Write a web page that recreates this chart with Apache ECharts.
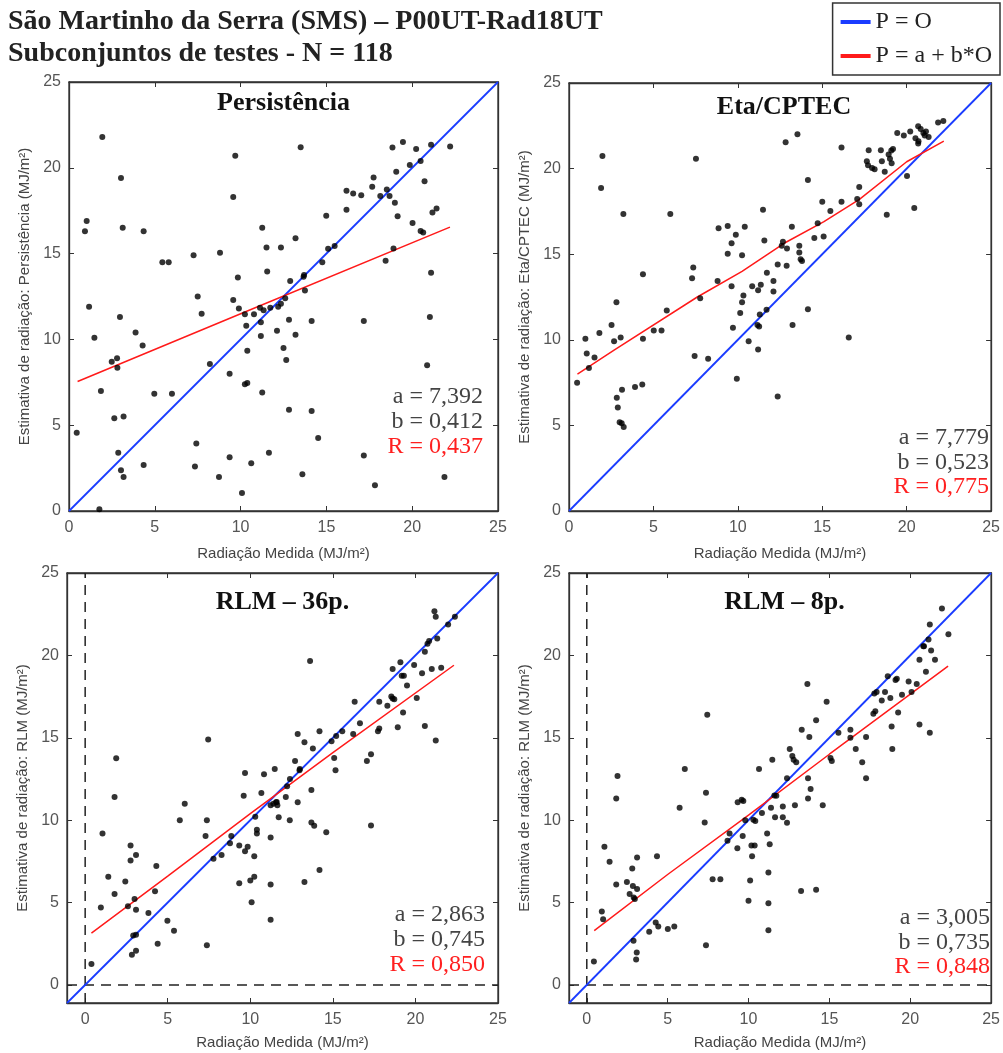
<!DOCTYPE html>
<html><head><meta charset="utf-8">
<script src="https://cdn.jsdelivr.net/npm/echarts@6/dist/echarts.min.js"></script>
<style>html,body{margin:0;padding:0;background:#fff}#c{width:1003px;height:1053px}</style>
</head><body><div id="c"></div>
<script>
// ---------- DATA ----------
const mainTitle = ['São Martinho da Serra (SMS) – P00UT-Rad18UT', 'Subconjuntos de testes - N = 118'];
const legendNames = ['P = O', 'P = a + b*O'];
const panelTitles = ['Persistência', 'Eta/CPTEC', 'RLM – 36p.', 'RLM – 8p.'];
const yAxisNames = ['Estimativa de radiação: Persistência (MJ/m²)', 'Estimativa de radiação: Eta/CPTEC (MJ/m²)',
  'Estimativa de radiação: RLM (MJ/m²)', 'Estimativa de radiação: RLM (MJ/m²)'];
const xAxisName = 'Radiação Medida (MJ/m²)';
const tickValues = [0, 5, 10, 15, 20, 25];
const statsA = ['a = 7,392', 'a = 7,779', 'a = 2,863', 'a = 3,005'];
const statsB = ['b = 0,412', 'b = 0,523', 'b = 0,745', 'b = 0,735'];
const statsR = ['R = 0,437', 'R = 0,775', 'R = 0,850', 'R = 0,848'];

const persistPts = [[0.45,4.56],[0.93,16.3],[1.03,16.9],[1.17,11.9],[1.48,10.1],[1.77,0.1],[1.86,7.0],[1.94,21.8],[2.49,8.7],[2.64,5.4],[2.80,8.9],[2.82,8.35],[2.87,3.4],[2.97,11.3],[3.03,19.4],[3.03,2.37],[3.13,16.5],[3.18,5.5],[3.18,1.98],[3.88,10.4],[4.29,9.65],[4.35,16.3],[4.35,2.68],[4.97,6.83],[5.44,14.5],[5.81,14.5],[6.0,6.83],[7.26,14.9],[7.34,2.6],[7.42,3.94],[7.5,12.5],[7.73,11.5],[8.21,8.56],[8.74,1.98],[8.80,15.05],[9.36,8.0],[9.36,3.13],[9.57,12.3],[9.57,18.3],[9.69,20.7],[9.84,13.6],[9.9,11.8],[10.08,1.05],[10.25,7.38],[10.25,11.46],[10.33,10.8],[10.39,9.34],[10.39,7.46],[10.62,2.78],[10.78,11.46],[11.13,11.84],[11.18,11.0],[11.18,10.2],[11.26,6.9],[11.26,16.5],[11.34,11.7],[11.51,15.36],[11.55,13.96],[11.65,3.4],[11.73,11.84],[12.12,10.5],[12.19,11.9],[12.35,15.36],[12.35,12.08],[12.5,9.5],[12.66,8.8],[12.82,11.14],[12.82,5.9],[12.89,13.4],[13.2,10.27],[13.2,15.9],[13.5,21.2],[13.6,2.14],[13.67,13.65],[13.75,12.85],[14.14,11.07],[14.14,5.83],[14.52,4.25],[14.76,14.5],[14.99,17.2],[15.1,15.28],[15.48,15.44],[16.17,17.55],[16.17,18.66],[16.56,18.5],[17.03,18.4],[17.18,11.07],[17.18,3.24],[17.67,18.9],[17.75,19.44],[17.83,1.5],[18.14,18.35],[18.45,14.58],[18.52,18.74],[18.68,18.35],[18.85,21.18],[18.91,15.3],[18.99,17.96],[19.07,19.77],[19.15,17.18],[19.46,21.5],[19.86,20.16],[20.02,16.78],[20.23,21.09],[20.49,20.39],[20.49,16.31],[20.64,16.23],[20.72,19.22],[20.87,8.49],[21.03,11.3],[21.1,13.88],[21.1,21.34],[21.18,17.4],[21.42,17.63],[21.88,1.98],[22.21,21.24],[12.6,12.4],[13.7,13.75]];

const etaPts = [[0.48,7.49],[0.97,10.06],[1.05,9.2],[1.18,8.35],[1.51,8.97],[1.8,10.39],[1.9,18.87],[1.98,20.74],[2.52,10.86],[2.67,9.92],[2.81,12.2],[2.83,6.61],[2.89,6.05],[3.0,5.19],[3.06,10.14],[3.12,5.12],[3.14,7.08],[3.22,17.35],[3.24,4.9],[3.91,7.24],[4.34,7.39],[4.38,13.83],[4.38,10.06],[5.02,10.54],[5.48,10.54],[5.79,11.71],[6.0,17.35],[7.29,13.6],[7.36,14.22],[7.44,9.05],[7.52,20.58],[7.77,12.43],[8.24,8.89],[8.8,13.44],[8.86,16.52],[9.4,16.65],[9.4,15.02],[9.63,13.13],[9.63,15.64],[9.71,10.7],[9.88,16.13],[9.94,7.72],[10.14,11.56],[10.25,12.2],[10.25,14.94],[10.33,12.59],[10.41,16.6],[10.64,9.92],[10.85,13.13],[11.16,10.86],[11.2,12.9],[11.2,9.44],[11.26,10.78],[11.3,11.48],[11.36,13.21],[11.49,17.59],[11.57,15.8],[11.72,13.91],[12.11,13.44],[12.11,12.82],[12.36,14.4],[12.36,6.69],[12.6,15.49],[12.67,15.72],[12.83,21.54],[12.89,14.32],[12.91,15.33],[13.2,16.6],[13.24,10.86],[13.53,22.0],[13.64,15.49],[13.64,15.1],[13.72,14.71],[13.8,14.61],[14.15,19.34],[14.15,11.79],[14.53,15.95],[14.73,16.81],[15.0,18.07],[15.08,16.03],[15.48,17.53],[16.14,21.23],[16.14,18.07],[16.57,10.14],[17.07,18.23],[17.19,18.93],[17.19,17.92],[17.64,20.43],[17.71,20.19],[17.75,21.07],[17.95,20.04],[18.1,19.96],[18.47,21.07],[18.53,20.43],[18.7,19.81],[18.82,17.3],[18.93,20.82],[19.01,20.58],[19.09,21.05],[19.11,20.31],[19.19,21.15],[19.44,22.08],[19.83,21.93],[20.02,19.57],[20.21,22.16],[20.45,17.7],[20.52,21.77],[20.68,21.46],[20.68,22.47],[20.83,22.31],[20.99,22.08],[21.07,21.93],[21.14,22.16],[21.3,21.85],[21.86,22.7],[22.17,22.78],[20.7,21.6],[11.7,11.75]];

const rlm36Pts = [[0.38,1.26],[0.95,4.69],[1.05,9.19],[1.4,6.57],[1.78,5.52],[1.78,11.4],[1.88,13.75],[2.43,6.27],[2.59,4.77],[2.75,8.46],[2.75,7.55],[2.83,1.83],[2.91,3.0],[2.99,5.21],[3.08,7.89],[3.08,4.56],[3.08,3.04],[3.08,2.07],[3.83,4.36],[4.23,5.68],[4.31,7.22],[4.39,2.49],[4.98,3.89],[5.38,3.29],[5.73,10.0],[6.03,10.99],[7.29,9.03],[7.37,10.0],[7.37,2.41],[7.45,14.89],[7.77,7.65],[8.26,7.89],[8.77,8.6],[8.85,9.03],[9.33,8.46],[9.33,6.17],[9.6,11.48],[9.68,12.86],[9.68,8.11],[9.84,8.38],[10.0,6.33],[10.08,5.01],[10.24,6.57],[10.24,7.81],[10.4,9.41],[10.4,9.19],[10.67,11.64],[10.83,12.78],[11.23,8.95],[11.23,6.09],[11.23,3.96],[11.23,10.91],[11.48,13.1],[11.56,11.08],[11.64,10.91],[11.72,10.18],[12.15,11.4],[12.23,12.05],[12.39,10.0],[12.71,13.59],[12.87,11.08],[12.87,15.23],[12.98,13.02],[13.28,6.25],[13.28,14.73],[13.62,19.66],[13.7,11.83],[13.7,9.86],[13.79,14.34],[13.87,9.66],[14.19,6.98],[14.19,15.4],[14.6,9.27],[14.92,14.79],[15.08,13.77],[15.16,13.02],[15.57,15.4],[16.23,15.23],[16.32,17.18],[16.64,15.88],[17.06,13.59],[17.31,14.0],[17.31,9.68],[17.73,15.4],[17.81,17.18],[17.81,15.56],[18.3,16.94],[18.54,17.5],[18.62,19.17],[18.72,17.34],[18.93,15.64],[19.09,19.58],[19.17,18.76],[19.25,16.53],[19.49,18.17],[19.92,19.41],[20.08,17.42],[20.4,18.92],[20.57,15.72],[20.57,20.22],[20.73,20.71],[20.99,19.17],[21.15,22.68],[21.23,22.35],[21.23,14.83],[21.32,21.03],[21.56,19.25],[21.98,21.87],[22.39,22.35],[20.83,20.87],[18.62,17.38],[19.3,18.76],[11.4,11.0],[11.6,11.1],[12.4,12.5],[13.0,13.1],[15.2,15.1],[10.3,10.2]];

const rlm8Pts = [[0.44,1.42],[0.93,4.46],[1.01,3.98],[1.09,8.38],[1.41,7.48],[1.82,6.09],[1.82,11.32],[1.9,12.68],[2.48,6.25],[2.65,5.52],[2.81,7.06],[2.85,6.0],[2.89,2.68],[2.97,5.21],[3.05,1.54],[3.09,1.97],[3.11,5.82],[3.11,7.73],[3.86,3.23],[4.26,3.79],[4.34,7.81],[4.42,3.55],[5.01,3.39],[5.41,3.55],[5.74,10.75],[6.06,13.1],[7.29,9.86],[7.37,11.66],[7.37,2.41],[7.45,16.39],[7.78,6.41],[8.26,6.41],[8.83,9.19],[9.31,8.3],[9.33,11.08],[9.58,11.24],[9.64,9.03],[9.68,11.16],[10.0,5.11],[10.1,6.33],[10.18,8.46],[10.22,7.81],[10.3,10.02],[10.38,8.46],[10.42,9.94],[10.65,13.1],[10.83,10.43],[11.15,9.19],[11.23,6.82],[11.23,4.95],[11.23,3.31],[11.31,8.54],[11.39,10.75],[11.47,13.67],[11.64,10.18],[11.72,11.48],[12.12,10.83],[12.12,10.18],[12.38,9.84],[12.38,12.54],[12.55,14.32],[12.71,13.89],[12.79,13.67],[12.87,10.91],[12.95,13.51],[13.25,5.7],[13.29,15.48],[13.68,12.54],[13.68,11.32],[13.76,15.05],[13.64,18.26],[13.84,11.89],[14.18,5.78],[14.18,16.06],[14.59,10.91],[14.83,17.18],[15.07,13.77],[15.15,13.59],[15.56,15.31],[16.3,15.48],[16.63,14.32],[17.03,13.51],[17.27,12.54],[17.27,15.05],[17.72,16.45],[17.84,16.61],[17.92,17.77],[18.24,17.26],[18.44,17.77],[18.61,18.74],[18.77,17.42],[18.85,15.68],[18.89,14.32],[19.09,18.5],[19.17,18.58],[19.25,16.53],[19.49,17.61],[19.9,18.42],[20.08,17.77],[20.4,18.26],[20.57,15.8],[20.57,19.74],[20.81,20.55],[20.97,19.0],[21.13,20.97],[21.21,15.31],[21.21,21.87],[21.29,20.3],[21.53,19.74],[21.96,22.84],[22.36,21.28],[20.85,20.55],[17.78,17.69],[2.9,5.3],[8.7,8.75],[9.8,10.0],[11.6,11.5],[16.3,15.0]];

// identity line (P = O) and fitted line (P = a + b*O)
const identityTop = [[0, 0], [25, 25]];
const identityBottom = [[-1.1, -1.1], [25, 25]];
const fitPersist = [[0.5, 7.55], [10.25, 11.6], [22.2, 16.54]];
const fitEta = [[0.5, 8.0], [2.67, 9.4], [7.6, 12.5], [10.25, 14.0], [12.85, 15.7], [15.1, 16.9], [17.2, 18.2], [20.0, 20.4], [22.2, 21.6]];
const fitRlm36 = [[0.38, 3.14], [5.0, 6.6], [10.0, 10.4], [15.0, 14.1], [22.33, 19.4]];
const fitRlm8 = [[0.46, 3.29], [5.0, 6.7], [10.0, 10.3], [15.0, 14.0], [22.34, 19.35]];
// zero reference lines of the bottom panels
const zeroV = [[0, -1.1], [0, 25]];
const zeroH = [[-1.1, 0], [25, 0]];

// ---------- CHART ----------
const BLUE = '#1a3cff', RED = '#ff1a1a';
const grids = [
  {left: 69, top: 82, width: 429, height: 429},
  {left: 569, top: 83, width: 430, height: 428},
  {left: 67, top: 573, width: 431, height: 430},
  {left: 569, top: 573, width: 431, height: 430}
];
const pts = [persistPts, etaPts, rlm36Pts, rlm8Pts];
const fits = [fitPersist, fitEta, fitRlm36, fitRlm8];
const idents = [identityTop, identityTop, identityBottom, identityBottom];
const statsPos = [
  {x: 483, y: [397, 422, 447]},
  {x: 989, y: [438, 463, 487]},
  {x: 485, y: [915, 940, 965]},
  {x: 990, y: [918, 943, 967]}
];
const titleY = [103, 107, 602, 602];

const labelFont = {fontFamily: 'Liberation Sans', fontSize: 16, color: '#555'};
const xAxes = [], yAxes = [], series = [], graphics = [];
grids.forEach((g, i) => {
  const bottom = i >= 2;
  const mn = bottom ? -1.1 : 0;
  const common = {
    min: mn, max: 25, gridIndex: i, splitLine: {show: false},
    axisLine: {show: true, onZero: false, lineStyle: {color: '#333', width: 1.3}}
  };
  const tickCfg = bottom ? {customValues: tickValues} : {};
  const intervalCfg = bottom ? {} : {interval: 5};
  xAxes.push(Object.assign({}, common, intervalCfg, {
    type: 'value', position: 'bottom',
    name: xAxisName, nameLocation: 'middle', nameGap: bottom ? 32 : 35,
    nameTextStyle: {fontFamily: 'Liberation Sans', fontSize: 15, color: '#444'},
    axisTick: Object.assign({inside: true, length: 5, lineStyle: {color: '#333'}}, tickCfg),
    axisLabel: Object.assign({}, labelFont, {margin: 9, showMaxLabel: true}, tickCfg)
  }));
  xAxes.push(Object.assign({}, common, intervalCfg, {
    type: 'value', position: 'top',
    axisTick: Object.assign({inside: true, length: 5, lineStyle: {color: '#333'}}, tickCfg),
    axisLabel: {show: false}
  }));
  yAxes.push(Object.assign({}, common, intervalCfg, {
    type: 'value', position: 'left',
    name: yAxisNames[i], nameLocation: 'middle', nameGap: 37,
    nameTextStyle: {fontFamily: 'Liberation Sans', fontSize: 15, color: '#444'},
    axisTick: Object.assign({inside: true, length: 5, lineStyle: {color: '#333'}}, tickCfg),
    axisLabel: Object.assign({}, labelFont, {margin: 8}, tickCfg)
  }));
  yAxes.push(Object.assign({}, common, intervalCfg, {
    type: 'value', position: 'right',
    axisTick: Object.assign({inside: true, length: 5, lineStyle: {color: '#333'}}, tickCfg),
    axisLabel: {show: false}
  }));
  const xi = i * 2, yi = i * 2;
  if (bottom) {
    [zeroV, zeroH].forEach(d => series.push({
      type: 'line', xAxisIndex: xi, yAxisIndex: yi, data: d, showSymbol: false, silent: true,
      lineStyle: {color: '#222', type: [10, 7], width: 1.5}, z: 1
    }));
  }
  series.push({
    type: 'scatter', xAxisIndex: xi, yAxisIndex: yi, data: pts[i],
    symbolSize: 6, itemStyle: {color: '#000'}, silent: true, z: 3
  });
  series.push({
    type: 'line', name: legendNames[0], xAxisIndex: xi, yAxisIndex: yi, data: idents[i],
    showSymbol: false, lineStyle: {color: BLUE, width: 1.8}, itemStyle: {color: BLUE}, z: 2
  });
  series.push({
    type: 'line', name: legendNames[1], xAxisIndex: xi, yAxisIndex: yi, data: fits[i],
    showSymbol: false, lineStyle: {color: RED, width: 1.5}, itemStyle: {color: RED}, z: 2
  });
  graphics.push({type: 'text', x: g.left + g.width / 2, y: titleY[i],
    style: {text: panelTitles[i], font: 'bold 26px "Liberation Serif"', fill: '#111',
      textAlign: 'center', textVerticalAlign: 'middle'}});
  const sp = statsPos[i];
  [statsA[i], statsB[i], statsR[i]].forEach((t, k) => {
    graphics.push({type: 'text', x: sp.x, y: sp.y[k],
      style: {text: t, font: '24px "Liberation Serif"', fill: k === 2 ? '#ff2020' : '#444',
        textAlign: 'right', textVerticalAlign: 'middle'}});
  });
});

graphics.push({type: 'text', x: 8, y: 22, style: {text: mainTitle[0], font: 'bold 28px "Liberation Serif"', fill: '#222', textVerticalAlign: 'middle'}});
graphics.push({type: 'text', x: 8, y: 54, style: {text: mainTitle[1], font: 'bold 28px "Liberation Serif"', fill: '#222', textVerticalAlign: 'middle'}});

const chart = echarts.init(document.getElementById('c'));
chart.setOption({
  animation: false,
  grid: grids.map(g => Object.assign({show: true, borderColor: '#333', borderWidth: 1.3, backgroundColor: '#fff'}, g)),
  xAxis: xAxes,
  yAxis: yAxes,
  legend: {
    data: legendNames, orient: 'vertical', right: 3, top: 3,
    padding: [7, 8, 7, 8], itemGap: 10, itemWidth: 30, itemHeight: 4, icon: 'rect',
    borderColor: '#333', borderWidth: 1.5, backgroundColor: '#fff',
    textStyle: {fontFamily: 'Liberation Serif', fontSize: 24, color: '#222'}
  },
  graphic: graphics,
  series: series
});
</script>
</body></html>
